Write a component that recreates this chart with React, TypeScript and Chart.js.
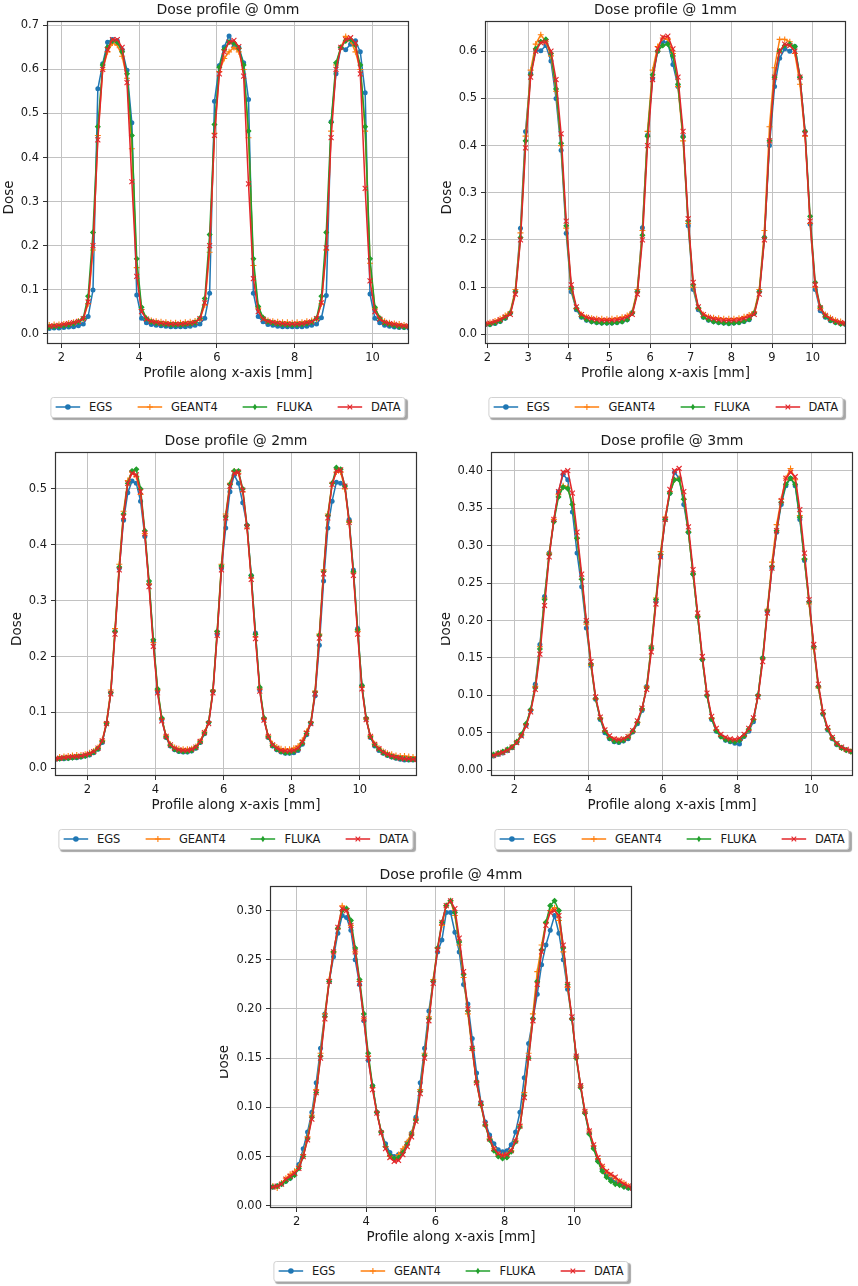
import { useEffect, useRef } from "react"
import { Chart, registerables } from "chart.js"

Chart.register(...registerables)
Chart.defaults.font.family = "'DejaVu Sans', sans-serif"

// x positions [mm] (0.125 mm voxel centres) used by the 0 mm and 1 mm profiles
const xNarrow = [
  1.6875, 1.8125, 1.9375, 2.0625, 2.1875, 2.3125, 2.4375,
  2.5625, 2.6875, 2.8125, 2.9375, 3.0625, 3.1875, 3.3125, 3.4375, 3.5625, 3.6875, 3.8125, 3.9375, 4.0625, 4.1875,
  4.3125, 4.4375, 4.5625, 4.6875, 4.8125, 4.9375, 5.0625, 5.1875, 5.3125, 5.4375,
  5.5625, 5.6875, 5.8125, 5.9375, 6.0625, 6.1875, 6.3125, 6.4375, 6.5625, 6.6875, 6.8125, 6.9375, 7.0625, 7.1875,
  7.3125, 7.4375, 7.5625, 7.6875, 7.8125, 7.9375, 8.0625, 8.1875, 8.3125, 8.4375,
  8.5625, 8.6875, 8.8125, 8.9375, 9.0625, 9.1875, 9.3125, 9.4375, 9.5625, 9.6875, 9.8125, 9.9375, 10.0625, 10.1875,
  10.3125, 10.4375, 10.5625, 10.6875, 10.8125, 10.9375,
]

// x positions [mm] used by the 2, 3 and 4 mm profiles
const xWide = [
  0.9375, 1.0625, 1.1875, 1.3125, 1.4375, 1.5625, 1.6875, 1.8125, 1.9375, 2.0625, 2.1875, 2.3125, 2.4375,
  2.5625, 2.6875, 2.8125, 2.9375, 3.0625, 3.1875, 3.3125, 3.4375, 3.5625, 3.6875, 3.8125, 3.9375, 4.0625, 4.1875,
  4.3125, 4.4375, 4.5625, 4.6875, 4.8125, 4.9375, 5.0625, 5.1875, 5.3125, 5.4375,
  5.5625, 5.6875, 5.8125, 5.9375, 6.0625, 6.1875, 6.3125, 6.4375, 6.5625, 6.6875, 6.8125, 6.9375, 7.0625, 7.1875,
  7.3125, 7.4375, 7.5625, 7.6875, 7.8125, 7.9375, 8.0625, 8.1875, 8.3125, 8.4375,
  8.5625, 8.6875, 8.8125, 8.9375, 9.0625, 9.1875, 9.3125, 9.4375, 9.5625, 9.6875, 9.8125, 9.9375, 10.0625, 10.1875,
  10.3125, 10.4375, 10.5625, 10.6875, 10.8125, 10.9375, 11.0625, 11.1875, 11.3125, 11.4375, 11.5625, 11.6875,
]

// ---- dose @ 0 mm
const egs0 = [
  0.012, 0.013, 0.013, 0.014, 0.015, 0.016, 0.018,
  0.022, 0.039, 0.099, 0.556, 0.613, 0.662, 0.668, 0.665, 0.645, 0.598, 0.479, 0.088, 0.035, 0.025,
  0.021, 0.019, 0.018, 0.017, 0.016, 0.016, 0.016, 0.016, 0.017, 0.019,
  0.022, 0.035, 0.092, 0.528, 0.609, 0.651, 0.676, 0.651, 0.650, 0.615, 0.532, 0.092, 0.039, 0.027,
  0.021, 0.019, 0.017, 0.016, 0.016, 0.016, 0.016, 0.016, 0.017, 0.019,
  0.022, 0.036, 0.087, 0.481, 0.590, 0.650, 0.645, 0.657, 0.665, 0.640, 0.547, 0.090, 0.035, 0.025,
  0.019, 0.017, 0.015, 0.014, 0.014, 0.013,
]
const geant0 = [
  0.020, 0.021, 0.021, 0.022, 0.024, 0.026, 0.029,
  0.033, 0.068, 0.190, 0.450, 0.600, 0.640, 0.660, 0.655, 0.630, 0.580, 0.420, 0.150, 0.055, 0.035,
  0.030, 0.028, 0.027, 0.026, 0.025, 0.025, 0.025, 0.026, 0.027, 0.029,
  0.033, 0.065, 0.185, 0.455, 0.595, 0.625, 0.640, 0.650, 0.640, 0.600, 0.445, 0.155, 0.058, 0.036,
  0.030, 0.028, 0.027, 0.026, 0.026, 0.025, 0.026, 0.026, 0.028, 0.030,
  0.033, 0.068, 0.190, 0.460, 0.610, 0.650, 0.675, 0.665, 0.640, 0.600, 0.460, 0.160, 0.058, 0.036,
  0.028, 0.025, 0.023, 0.022, 0.020, 0.019,
]
const fluka0 = [
  0.015, 0.016, 0.017, 0.018, 0.020, 0.023, 0.027,
  0.035, 0.085, 0.230, 0.470, 0.610, 0.650, 0.665, 0.662, 0.640, 0.590, 0.450, 0.170, 0.060, 0.034,
  0.027, 0.024, 0.022, 0.021, 0.020, 0.020, 0.020, 0.021, 0.022, 0.025,
  0.035, 0.080, 0.225, 0.475, 0.605, 0.645, 0.662, 0.660, 0.648, 0.610, 0.460, 0.170, 0.062, 0.036,
  0.027, 0.024, 0.022, 0.021, 0.020, 0.020, 0.020, 0.021, 0.023, 0.026,
  0.035, 0.085, 0.230, 0.480, 0.615, 0.650, 0.665, 0.668, 0.655, 0.610, 0.470, 0.170, 0.060, 0.035,
  0.024, 0.021, 0.018, 0.016, 0.015, 0.015,
]
const data0 = [
  0.017, 0.018, 0.019, 0.021, 0.023, 0.025, 0.028,
  0.034, 0.072, 0.200, 0.440, 0.600, 0.645, 0.668, 0.668, 0.650, 0.570, 0.345, 0.130, 0.050, 0.033,
  0.028, 0.026, 0.024, 0.023, 0.022, 0.022, 0.022, 0.023, 0.024, 0.026,
  0.034, 0.070, 0.200, 0.450, 0.590, 0.640, 0.662, 0.666, 0.652, 0.585, 0.340, 0.125, 0.050, 0.033,
  0.028, 0.026, 0.024, 0.023, 0.022, 0.022, 0.022, 0.023, 0.025, 0.027,
  0.034, 0.070, 0.195, 0.445, 0.600, 0.650, 0.668, 0.672, 0.660, 0.590, 0.330, 0.120, 0.050, 0.033,
  0.026, 0.023, 0.021, 0.019, 0.018, 0.017,
]

// ---- dose @ 1 mm
const egs1 = [
  0.018, 0.019, 0.020, 0.021, 0.023, 0.027, 0.034,
  0.045, 0.090, 0.225, 0.430, 0.553, 0.602, 0.601, 0.612, 0.579, 0.500, 0.390, 0.214, 0.090, 0.052,
  0.036, 0.030, 0.027, 0.025, 0.024, 0.024, 0.024, 0.025, 0.027, 0.031,
  0.046, 0.090, 0.226, 0.422, 0.542, 0.600, 0.620, 0.618, 0.572, 0.525, 0.420, 0.230, 0.095, 0.052,
  0.036, 0.030, 0.027, 0.025, 0.024, 0.023, 0.024, 0.025, 0.027, 0.031,
  0.045, 0.090, 0.205, 0.400, 0.525, 0.585, 0.605, 0.600, 0.610, 0.545, 0.430, 0.234, 0.095, 0.050,
  0.036, 0.029, 0.025, 0.023, 0.021, 0.020,
]
const geant1 = [
  0.022, 0.023, 0.024, 0.025, 0.028, 0.033, 0.040,
  0.048, 0.095, 0.215, 0.420, 0.560, 0.615, 0.635, 0.620, 0.590, 0.515, 0.400, 0.225, 0.095, 0.055,
  0.042, 0.036, 0.034, 0.033, 0.033, 0.032, 0.033, 0.034, 0.036, 0.040,
  0.048, 0.095, 0.220, 0.430, 0.560, 0.610, 0.628, 0.625, 0.595, 0.525, 0.410, 0.235, 0.100, 0.055,
  0.042, 0.037, 0.035, 0.034, 0.033, 0.033, 0.033, 0.034, 0.037, 0.041,
  0.048, 0.095, 0.220, 0.440, 0.565, 0.625, 0.625, 0.620, 0.595, 0.530, 0.420, 0.235, 0.100, 0.055,
  0.042, 0.035, 0.030, 0.027, 0.025, 0.024,
]
const fluka1 = [
  0.018, 0.019, 0.020, 0.021, 0.024, 0.028, 0.035,
  0.045, 0.090, 0.205, 0.410, 0.550, 0.605, 0.620, 0.625, 0.595, 0.520, 0.405, 0.230, 0.098, 0.055,
  0.038, 0.031, 0.027, 0.025, 0.024, 0.024, 0.024, 0.025, 0.027, 0.031,
  0.045, 0.090, 0.210, 0.420, 0.550, 0.600, 0.612, 0.615, 0.590, 0.530, 0.418, 0.240, 0.105, 0.056,
  0.037, 0.031, 0.027, 0.025, 0.024, 0.023, 0.024, 0.025, 0.028, 0.032,
  0.045, 0.090, 0.205, 0.410, 0.545, 0.600, 0.612, 0.615, 0.610, 0.545, 0.430, 0.250, 0.110, 0.058,
  0.038, 0.030, 0.025, 0.022, 0.021, 0.020,
]
const data1 = [
  0.020, 0.021, 0.022, 0.024, 0.027, 0.031, 0.037,
  0.042, 0.085, 0.200, 0.395, 0.545, 0.600, 0.618, 0.620, 0.600, 0.540, 0.425, 0.240, 0.105, 0.058,
  0.042, 0.036, 0.033, 0.031, 0.030, 0.030, 0.030, 0.031, 0.033, 0.037,
  0.042, 0.085, 0.200, 0.400, 0.540, 0.605, 0.630, 0.632, 0.605, 0.545, 0.430, 0.245, 0.110, 0.058,
  0.042, 0.036, 0.033, 0.031, 0.030, 0.030, 0.030, 0.031, 0.034, 0.038,
  0.042, 0.085, 0.200, 0.410, 0.545, 0.600, 0.615, 0.612, 0.600, 0.545, 0.425, 0.240, 0.105, 0.056,
  0.040, 0.033, 0.028, 0.025, 0.023, 0.022,
]

// ---- dose @ 2 mm
const egs2 = [
  0.016, 0.016, 0.017, 0.017, 0.018, 0.019, 0.019, 0.020, 0.022, 0.024, 0.028, 0.034, 0.046,
  0.080, 0.135, 0.245, 0.358, 0.444, 0.493, 0.514, 0.510, 0.478, 0.415, 0.330, 0.228, 0.137, 0.087,
  0.055, 0.040, 0.033, 0.030, 0.029, 0.029, 0.031, 0.036, 0.046, 0.062,
  0.082, 0.138, 0.240, 0.358, 0.430, 0.495, 0.525, 0.510, 0.475, 0.435, 0.345, 0.242, 0.140, 0.088,
  0.055, 0.040, 0.033, 0.029, 0.027, 0.027, 0.028, 0.032, 0.043, 0.060,
  0.080, 0.130, 0.220, 0.335, 0.430, 0.478, 0.512, 0.510, 0.505, 0.445, 0.355, 0.250, 0.148, 0.088,
  0.055, 0.040, 0.032, 0.027, 0.023, 0.020, 0.018, 0.016, 0.015, 0.015, 0.015, 0.015,
]
const geant2 = [
  0.018, 0.019, 0.020, 0.021, 0.022, 0.023, 0.024, 0.024, 0.025, 0.028, 0.031, 0.037, 0.050,
  0.082, 0.140, 0.250, 0.365, 0.460, 0.515, 0.530, 0.522, 0.490, 0.420, 0.330, 0.225, 0.140, 0.088,
  0.058, 0.043, 0.037, 0.035, 0.034, 0.034, 0.035, 0.039, 0.049, 0.065,
  0.083, 0.140, 0.245, 0.365, 0.455, 0.510, 0.532, 0.528, 0.495, 0.430, 0.340, 0.235, 0.142, 0.088,
  0.058, 0.044, 0.038, 0.035, 0.034, 0.034, 0.036, 0.040, 0.050, 0.066,
  0.082, 0.138, 0.240, 0.355, 0.455, 0.510, 0.530, 0.530, 0.500, 0.440, 0.350, 0.245, 0.145, 0.088,
  0.058, 0.044, 0.036, 0.030, 0.027, 0.025, 0.023, 0.022, 0.022, 0.021, 0.020, 0.020,
]
const fluka2 = [
  0.016, 0.016, 0.017, 0.018, 0.018, 0.019, 0.020, 0.021, 0.022, 0.025, 0.029, 0.035, 0.048,
  0.080, 0.135, 0.245, 0.360, 0.455, 0.510, 0.532, 0.535, 0.500, 0.425, 0.335, 0.230, 0.142, 0.090,
  0.056, 0.041, 0.034, 0.031, 0.030, 0.030, 0.032, 0.037, 0.047, 0.063,
  0.082, 0.138, 0.245, 0.362, 0.450, 0.508, 0.532, 0.532, 0.500, 0.435, 0.345, 0.240, 0.145, 0.090,
  0.056, 0.041, 0.034, 0.030, 0.028, 0.028, 0.030, 0.034, 0.045, 0.062,
  0.082, 0.136, 0.238, 0.352, 0.452, 0.510, 0.538, 0.535, 0.505, 0.442, 0.352, 0.248, 0.148, 0.090,
  0.056, 0.042, 0.034, 0.028, 0.024, 0.021, 0.019, 0.018, 0.017, 0.016, 0.016, 0.016,
]
const data2 = [
  0.017, 0.017, 0.018, 0.019, 0.020, 0.021, 0.021, 0.022, 0.024, 0.026, 0.030, 0.036, 0.049,
  0.080, 0.133, 0.240, 0.355, 0.450, 0.510, 0.528, 0.525, 0.495, 0.420, 0.325, 0.218, 0.135, 0.085,
  0.057, 0.042, 0.036, 0.033, 0.032, 0.032, 0.034, 0.038, 0.048, 0.064,
  0.080, 0.135, 0.238, 0.355, 0.448, 0.505, 0.528, 0.530, 0.498, 0.432, 0.338, 0.232, 0.138, 0.086,
  0.057, 0.042, 0.036, 0.032, 0.031, 0.031, 0.032, 0.036, 0.047, 0.063,
  0.080, 0.133, 0.233, 0.348, 0.448, 0.508, 0.532, 0.534, 0.505, 0.440, 0.345, 0.240, 0.142, 0.087,
  0.057, 0.043, 0.035, 0.029, 0.025, 0.022, 0.020, 0.018, 0.017, 0.017, 0.016, 0.016,
]

// ---- dose @ 3 mm
const egs3 = [
  0.012, 0.014, 0.016, 0.018, 0.019, 0.021, 0.023, 0.026, 0.030, 0.037, 0.046, 0.060, 0.080,
  0.115, 0.168, 0.232, 0.290, 0.333, 0.372, 0.395, 0.388, 0.345, 0.290, 0.245, 0.190, 0.140, 0.095,
  0.068, 0.050, 0.042, 0.038, 0.037, 0.039, 0.042, 0.051, 0.062, 0.080,
  0.112, 0.165, 0.225, 0.285, 0.335, 0.370, 0.398, 0.390, 0.355, 0.318, 0.262, 0.205, 0.148, 0.100,
  0.068, 0.052, 0.045, 0.040, 0.038, 0.036, 0.035, 0.045, 0.052, 0.065,
  0.100, 0.150, 0.212, 0.270, 0.318, 0.355, 0.380, 0.390, 0.380, 0.335, 0.280, 0.225, 0.165, 0.112,
  0.075, 0.054, 0.042, 0.034, 0.030, 0.027, 0.025, 0.023, 0.022, 0.021, 0.020, 0.019,
]
const geant3 = [
  0.012, 0.014, 0.016, 0.018, 0.020, 0.022, 0.024, 0.027, 0.031, 0.038, 0.047, 0.061, 0.080,
  0.112, 0.165, 0.230, 0.290, 0.335, 0.368, 0.380, 0.378, 0.355, 0.310, 0.255, 0.195, 0.140, 0.095,
  0.070, 0.053, 0.044, 0.041, 0.040, 0.041, 0.045, 0.052, 0.064, 0.082,
  0.112, 0.166, 0.230, 0.292, 0.338, 0.372, 0.388, 0.390, 0.362, 0.318, 0.262, 0.205, 0.148, 0.100,
  0.070, 0.054, 0.046, 0.042, 0.040, 0.039, 0.040, 0.046, 0.054, 0.068,
  0.100, 0.150, 0.215, 0.278, 0.328, 0.362, 0.390, 0.403, 0.388, 0.340, 0.282, 0.222, 0.162, 0.110,
  0.076, 0.055, 0.043, 0.035, 0.030, 0.027, 0.025, 0.023, 0.022, 0.021, 0.020, 0.019,
]
const fluka3 = [
  0.013, 0.015, 0.017, 0.019, 0.021, 0.023, 0.025, 0.028, 0.031, 0.038, 0.048, 0.062, 0.081,
  0.110, 0.162, 0.228, 0.288, 0.332, 0.365, 0.378, 0.376, 0.355, 0.310, 0.255, 0.198, 0.142, 0.096,
  0.069, 0.052, 0.043, 0.039, 0.038, 0.040, 0.044, 0.052, 0.064, 0.082,
  0.110, 0.163, 0.228, 0.288, 0.335, 0.370, 0.388, 0.388, 0.362, 0.318, 0.262, 0.205, 0.148, 0.100,
  0.069, 0.053, 0.045, 0.041, 0.039, 0.038, 0.040, 0.046, 0.055, 0.068,
  0.100, 0.150, 0.213, 0.272, 0.320, 0.358, 0.382, 0.390, 0.382, 0.338, 0.282, 0.225, 0.165, 0.112,
  0.076, 0.055, 0.043, 0.035, 0.030, 0.027, 0.025, 0.024, 0.022, 0.021, 0.020, 0.019,
]
const data3 = [
  0.012, 0.014, 0.016, 0.018, 0.020, 0.022, 0.024, 0.027, 0.031, 0.037, 0.046, 0.059, 0.078,
  0.108, 0.155, 0.220, 0.285, 0.335, 0.372, 0.398, 0.400, 0.370, 0.318, 0.262, 0.200, 0.145, 0.098,
  0.071, 0.054, 0.046, 0.042, 0.041, 0.042, 0.045, 0.053, 0.066, 0.083,
  0.108, 0.158, 0.222, 0.285, 0.335, 0.375, 0.400, 0.403, 0.372, 0.325, 0.268, 0.210, 0.152, 0.103,
  0.072, 0.056, 0.048, 0.044, 0.042, 0.041, 0.043, 0.048, 0.056, 0.070,
  0.098, 0.145, 0.210, 0.270, 0.320, 0.360, 0.390, 0.398, 0.392, 0.348, 0.290, 0.228, 0.168, 0.115,
  0.078, 0.057, 0.044, 0.036, 0.031, 0.028, 0.026, 0.024, 0.023, 0.022, 0.021, 0.020,
]

// ---- dose @ 4 mm
const egs4 = [
  0.016, 0.017, 0.018, 0.019, 0.020, 0.022, 0.025, 0.028, 0.032, 0.042, 0.058, 0.075, 0.095,
  0.125, 0.160, 0.195, 0.228, 0.253, 0.277, 0.295, 0.293, 0.280, 0.250, 0.225, 0.188, 0.148, 0.122,
  0.095, 0.075, 0.063, 0.054, 0.050, 0.052, 0.056, 0.064, 0.074, 0.090,
  0.125, 0.160, 0.198, 0.228, 0.258, 0.270, 0.298, 0.298, 0.278, 0.258, 0.225, 0.205, 0.170, 0.135,
  0.105, 0.085, 0.072, 0.063, 0.057, 0.055, 0.056, 0.062, 0.075, 0.095,
  0.130, 0.165, 0.190, 0.215, 0.245, 0.265, 0.280, 0.295, 0.277, 0.250, 0.220, 0.190, 0.152, 0.122,
  0.095, 0.074, 0.060, 0.046, 0.037, 0.031, 0.027, 0.024, 0.022, 0.020, 0.018, 0.017,
]
const geant4 = [
  0.016, 0.017, 0.019, 0.020, 0.018, 0.023, 0.028, 0.032, 0.035, 0.040, 0.052, 0.070, 0.092,
  0.118, 0.155, 0.195, 0.230, 0.258, 0.282, 0.305, 0.302, 0.285, 0.258, 0.228, 0.190, 0.152, 0.120,
  0.095, 0.075, 0.060, 0.050, 0.047, 0.052, 0.058, 0.065, 0.074, 0.088,
  0.118, 0.155, 0.192, 0.230, 0.262, 0.285, 0.305, 0.310, 0.295, 0.265, 0.232, 0.195, 0.158, 0.125,
  0.102, 0.082, 0.068, 0.058, 0.052, 0.051, 0.052, 0.056, 0.066, 0.082,
  0.115, 0.155, 0.195, 0.238, 0.265, 0.288, 0.300, 0.303, 0.290, 0.258, 0.222, 0.190, 0.152, 0.122,
  0.096, 0.076, 0.061, 0.048, 0.040, 0.034, 0.031, 0.028, 0.025, 0.023, 0.020, 0.018,
]
const fluka4 = [
  0.016, 0.017, 0.018, 0.019, 0.020, 0.022, 0.025, 0.028, 0.031, 0.038, 0.050, 0.068, 0.090,
  0.115, 0.152, 0.192, 0.228, 0.258, 0.282, 0.300, 0.302, 0.290, 0.262, 0.230, 0.195, 0.155, 0.122,
  0.095, 0.075, 0.060, 0.051, 0.048, 0.049, 0.054, 0.062, 0.072, 0.087,
  0.116, 0.153, 0.190, 0.228, 0.262, 0.288, 0.305, 0.310, 0.298, 0.268, 0.235, 0.198, 0.160, 0.126,
  0.103, 0.082, 0.067, 0.056, 0.050, 0.048, 0.049, 0.055, 0.065, 0.080,
  0.112, 0.150, 0.190, 0.228, 0.260, 0.288, 0.305, 0.310, 0.300, 0.262, 0.225, 0.190, 0.150, 0.120,
  0.094, 0.073, 0.058, 0.045, 0.035, 0.029, 0.025, 0.022, 0.021, 0.019, 0.018, 0.017,
]
const data4 = [
  0.016, 0.017, 0.018, 0.019, 0.020, 0.022, 0.027, 0.030, 0.033, 0.038, 0.050, 0.067, 0.088,
  0.115, 0.150, 0.190, 0.228, 0.258, 0.283, 0.302, 0.300, 0.285, 0.258, 0.226, 0.190, 0.150, 0.118,
  0.094, 0.074, 0.058, 0.049, 0.045, 0.046, 0.052, 0.060, 0.070, 0.086,
  0.114, 0.150, 0.188, 0.226, 0.260, 0.288, 0.305, 0.310, 0.302, 0.272, 0.238, 0.200, 0.160, 0.125,
  0.104, 0.083, 0.068, 0.058, 0.053, 0.051, 0.052, 0.056, 0.066, 0.081,
  0.110, 0.150, 0.188, 0.225, 0.258, 0.285, 0.298, 0.300, 0.295, 0.265, 0.225, 0.192, 0.152, 0.122,
  0.096, 0.076, 0.062, 0.049, 0.040, 0.035, 0.032, 0.029, 0.025, 0.022, 0.020, 0.018,
]

const seriesLabels = ["EGS", "GEANT4", "FLUKA", "DATA"]

// look of each series (same order as seriesLabels)
const STYLES = [
  { color: "#1f77b4", pointStyle: "circle", radius: 2.5, order: 4 },
  { color: "#ff7f0e", pointStyle: "cross", radius: 3, order: 3 },
  { color: "#22a02c", pointStyle: "rectRot", radius: 2.3, order: 2 },
  { color: "#e3262a", pointStyle: "crossRot", radius: 3.5, order: 1 },
]

interface PlotSpec {
  title: string
  x: number[]
  ys: number[][]
  xMin: number
  xMax: number
  xStep: number
  yMin: number
  yMax: number
  yStep: number
  yDec: number
  left: number
  top: number
  w: number
  h: number
  yLabelDx: number
}

const PLOTS: PlotSpec[] = [
  { title: "Dose profile @ 0mm", x: xNarrow, ys: [egs0, geant0, fluka0, data0], xMin: 1.63, xMax: 10.94, xStep: 2, yMin: -0.0234, yMax: 0.71, yStep: 0.1, yDec: 1, left: 47, top: 21, w: 362, h: 323, yLabelDx: 38 },
  { title: "Dose profile @ 1mm", x: xNarrow, ys: [egs1, geant1, fluka1, data1], xMin: 1.94, xMax: 10.82, xStep: 1, yMin: -0.0205, yMax: 0.664, yStep: 0.1, yDec: 1, left: 485, top: 21, w: 361, h: 323, yLabelDx: 38 },
  { title: "Dose profile @ 2mm", x: xWide, ys: [egs2, geant2, fluka2, data2], xMin: 1.05, xMax: 11.68, xStep: 2, yMin: -0.0138, yMax: 0.566, yStep: 0.1, yDec: 1, left: 55, top: 452, w: 362, h: 324, yLabelDx: 38 },
  { title: "Dose profile @ 3mm", x: xWide, ys: [egs3, geant3, fluka3, data3], xMin: 1.37, xMax: 11.12, xStep: 2, yMin: -0.0076, yMax: 0.425, yStep: 0.05, yDec: 2, left: 491, top: 452, w: 362, h: 324, yLabelDx: 45 },
  { title: "Dose profile @ 4mm", x: xWide, ys: [egs4, geant4, fluka4, data4], xMin: 1.23, xMax: 11.67, xStep: 2, yMin: -0.0023, yMax: 0.325, yStep: 0.05, yDec: 2, left: 270, top: 886, w: 362, h: 322, yLabelDx: 46 },
]

const AXIS_W = 50
const AXIS_H = 40
const PAD_TOP = 22
const PAD_RIGHT = 6
const TEXT = "#1a1a1a"
const GRID = { color: "#c2c2c2", lineWidth: 1, tickLength: 4, tickColor: "#333", tickWidth: 1 }

function ProfileChart({ spec }: { spec: PlotSpec }) {
  const ref = useRef<HTMLCanvasElement>(null)

  useEffect(() => {
    if (!ref.current) return
    // frame on all four sides, title and axis labels (matplotlib style)
    const labels = {
      id: "labels",
      afterDraw(chart: Chart) {
        const { ctx, chartArea: a } = chart
        ctx.save()
        ctx.strokeStyle = "#333"
        ctx.lineWidth = 1.2
        ctx.strokeRect(a.left + 0.5, a.top + 0.5, a.right - a.left - 1, a.bottom - a.top - 1)
        ctx.fillStyle = TEXT
        ctx.textAlign = "center"
        ctx.textBaseline = "middle"
        const cx = (a.left + a.right) / 2
        ctx.font = "14px 'DejaVu Sans'"
        ctx.fillText(spec.title, cx, a.top - 11)
        ctx.font = "13.5px 'DejaVu Sans'"
        ctx.fillText("Profile along x-axis [mm]", cx, a.bottom + 29)
        ctx.translate(a.left - spec.yLabelDx, (a.top + a.bottom) / 2 + 15)
        ctx.rotate(-Math.PI / 2)
        ctx.fillText("Dose", 0, 0)
        ctx.restore()
      },
    }

    const chart = new Chart(ref.current, {
      type: "line",
      data: {
        datasets: spec.ys.map((ys, i) => ({
          label: seriesLabels[i],
          data: spec.x.map((x, j) => ({ x, y: ys[j] })),
          borderColor: STYLES[i].color,
          backgroundColor: STYLES[i].color,
          borderWidth: 1.5,
          pointStyle: STYLES[i].pointStyle as any,
          pointRadius: STYLES[i].radius,
          pointBorderWidth: i === 0 ? 0 : 1.1,
          pointBackgroundColor: STYLES[i].color,
          pointBorderColor: STYLES[i].color,
          tension: 0,
          fill: false,
          clip: 0,
          order: STYLES[i].order,
        })),
      },
      options: {
        responsive: false,
        animation: false,
        events: [],
        layout: { padding: { top: PAD_TOP, right: PAD_RIGHT, left: 0, bottom: 0 } },
        plugins: { legend: { display: false }, title: { display: false }, tooltip: { enabled: false } },
        scales: {
          x: {
            type: "linear",
            min: spec.xMin,
            max: spec.xMax,
            afterFit: (s: any) => {
              s.height = AXIS_H
            },
            border: { display: false },
            grid: GRID,
            ticks: {
              stepSize: spec.xStep,
              includeBounds: false,
              autoSkip: false,
              maxRotation: 0,
              padding: 3,
              color: TEXT,
              font: { size: 11.5 },
              callback: (v: any) => String(v),
            },
          },
          y: {
            type: "linear",
            min: spec.yMin,
            max: spec.yMax,
            afterFit: (s: any) => {
              s.width = AXIS_W
            },
            border: { display: false },
            grid: GRID,
            ticks: {
              stepSize: spec.yStep,
              includeBounds: false,
              padding: 4,
              color: TEXT,
              font: { size: 11.5 },
              callback: (v: any) => Number(v).toFixed(spec.yDec),
            },
          },
        },
      },
      plugins: [labels],
    })

    return () => chart.destroy()
  }, [spec])

  return (
    <canvas
      ref={ref}
      width={spec.w + AXIS_W + PAD_RIGHT}
      height={spec.h + PAD_TOP + AXIS_H}
      style={{ position: "absolute", left: spec.left - AXIS_W, top: spec.top - PAD_TOP }}
    />
  )
}

function Marker({ i }: { i: number }) {
  const c = STYLES[i].color
  if (i === 0) return <circle cx={12.5} cy={5} r={2.8} fill={c} />
  if (i === 1)
    return (
      <g stroke={c} strokeWidth={1.1}>
        <line x1={12.5} y1={2} x2={12.5} y2={8} />
        <line x1={9.5} y1={5} x2={15.5} y2={5} />
      </g>
    )
  if (i === 2) return <polygon points="12.5,1.8 14.5,5 12.5,8.2 10.5,5" fill={c} />
  return (
    <g stroke={c} strokeWidth={1.1}>
      <line x1={10.2} y1={2.7} x2={14.8} y2={7.3} />
      <line x1={10.2} y1={7.3} x2={14.8} y2={2.7} />
    </g>
  )
}

function Legend({ spec }: { spec: PlotSpec }) {
  return (
    <div
      style={{
        position: "absolute",
        left: spec.left + spec.w / 2,
        top: spec.top + spec.h + 52.5,
        transform: "translateX(-50%)",
        height: 21,
        boxSizing: "border-box",
        display: "flex",
        alignItems: "center",
        padding: "0 4px 0 4px",
        border: "1px solid #d2d2d2",
        borderRadius: 3,
        background: "#fff",
        boxShadow: "2px 2px 1px rgba(0,0,0,0.35)",
        font: "11.5px 'DejaVu Sans'",
        color: TEXT,
        whiteSpace: "nowrap",
      }}
    >
      {seriesLabels.map((label, i) => (
        <div key={label} style={{ display: "flex", alignItems: "center", marginLeft: i === 0 ? 0 : 25 }}>
          <svg width={25} height={10} style={{ display: "block" }}>
            <line x1={0} y1={5} x2={25} y2={5} stroke={STYLES[i].color} strokeWidth={1.6} />
            <Marker i={i} />
          </svg>
          <span style={{ marginLeft: 8.5 }}>{label}</span>
        </div>
      ))}
    </div>
  )
}

export default function App() {
  return (
    <div style={{ position: "absolute", left: 0, top: 0, width: 858, height: 1286, background: "#fff" }}>
      {PLOTS.map((p) => (
        <div key={p.title}>
          <ProfileChart spec={p} />
          <Legend spec={p} />
        </div>
      ))}
    </div>
  )
}
